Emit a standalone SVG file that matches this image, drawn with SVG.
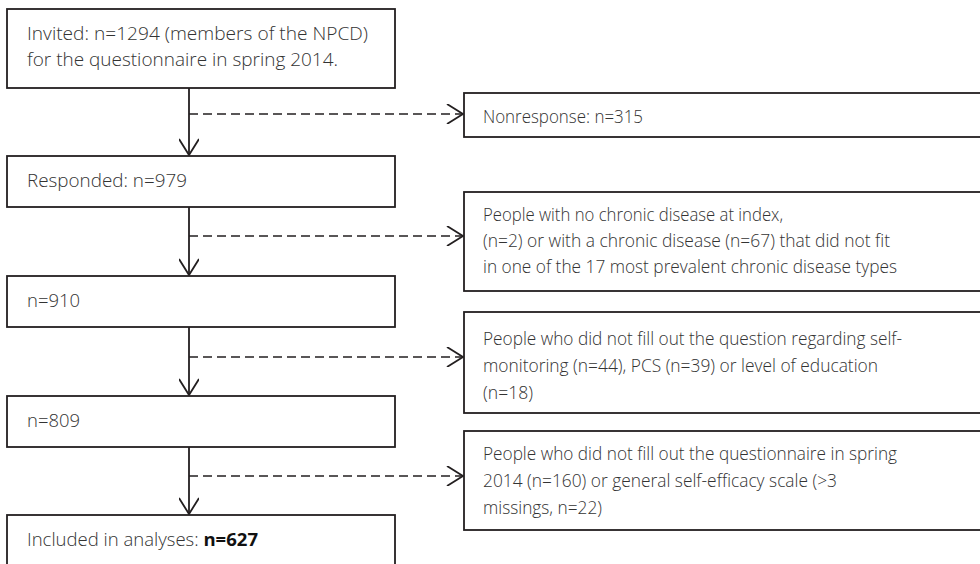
<svg xmlns="http://www.w3.org/2000/svg" width="980" height="564" viewBox="0 0 980 564">
<defs>
<style>
.box{fill:#fff;stroke:#231f20;stroke-width:1.8}
.t{font-family:"Open Sans","Liberation Sans",sans-serif;font-size:17.5px;font-weight:300;fill:#333}
.b{font-weight:700;fill:#111}
.solid{fill:none;stroke:#231f20;stroke-width:1.8}
.dash{fill:none;stroke:#231f20;stroke-width:1.6;stroke-dasharray:9 5}
</style>
<marker id="arr" viewBox="0 0 20 20" refX="18" refY="10" markerWidth="20" markerHeight="20" markerUnits="userSpaceOnUse" orient="auto">
<path d="M2,0 L18,10 L2,20" fill="none" stroke="#231f20" stroke-width="1.8"/>
</marker>
</defs>
<rect width="980" height="564" fill="#fff"/>
<g id="connectors">
<line class="solid" x1="189" y1="88" x2="189" y2="155" marker-end="url(#arr)"/>
<line class="solid" x1="189" y1="207" x2="189" y2="275" marker-end="url(#arr)"/>
<line class="solid" x1="189" y1="327" x2="189" y2="395" marker-end="url(#arr)"/>
<line class="solid" x1="189" y1="447" x2="189" y2="514" marker-end="url(#arr)"/>
<line class="dash" x1="189" y1="114" x2="463" y2="114" marker-end="url(#arr)"/>
<line class="dash" x1="189" y1="236" x2="463" y2="236" marker-end="url(#arr)"/>
<line class="dash" x1="189" y1="357" x2="463" y2="357" marker-end="url(#arr)"/>
<line class="dash" x1="189" y1="476" x2="463" y2="476" marker-end="url(#arr)"/>
</g>
<g id="invited">
<rect class="box" x="7" y="9" width="388" height="79"/>
<text class="t" x="27" y="40" textLength="341" lengthAdjust="spacingAndGlyphs">Invited: n=1294 (members of the NPCD)</text>
<text class="t" x="27" y="66" textLength="311" lengthAdjust="spacingAndGlyphs">for the questionnaire in spring 2014.</text>
</g>
<g id="responded">
<rect class="box" x="7" y="156" width="388" height="51"/>
<text class="t" x="27" y="187" textLength="160" lengthAdjust="spacingAndGlyphs">Responded: n=979</text>
</g>
<g id="n910">
<rect class="box" x="7" y="276" width="388" height="51"/>
<text class="t" x="27" y="307" textLength="53" lengthAdjust="spacingAndGlyphs">n=910</text>
</g>
<g id="n809">
<rect class="box" x="7" y="396" width="388" height="51"/>
<text class="t" x="27" y="427" textLength="53" lengthAdjust="spacingAndGlyphs">n=809</text>
</g>
<g id="included">
<rect class="box" x="7" y="515" width="388" height="60"/>
<text class="t" x="27" y="546" textLength="231" lengthAdjust="spacingAndGlyphs">Included in analyses: <tspan class="b">n=627</tspan></text>
</g>
<g id="nonresponse">
<rect class="box" x="464" y="93" width="530" height="44"/>
<text class="t" x="483" y="123" textLength="160" lengthAdjust="spacingAndGlyphs">Nonresponse: n=315</text>
</g>
<g id="excl1">
<rect class="box" x="464" y="192" width="530" height="99"/>
<text class="t" x="483" y="221" textLength="300" lengthAdjust="spacingAndGlyphs">People with no chronic disease at index,</text>
<text class="t" x="483" y="247" textLength="407" lengthAdjust="spacingAndGlyphs">(n=2) or with a chronic disease (n=67) that did not fit</text>
<text class="t" x="483" y="273" textLength="414" lengthAdjust="spacingAndGlyphs">in one of the 17 most prevalent chronic disease types</text>
</g>
<g id="excl2">
<rect class="box" x="464" y="312" width="530" height="101"/>
<text class="t" x="483" y="345" textLength="419" lengthAdjust="spacingAndGlyphs">People who did not fill out the question regarding self-</text>
<text class="t" x="483" y="372" textLength="395" lengthAdjust="spacingAndGlyphs">monitoring (n=44), PCS (n=39) or level of education</text>
<text class="t" x="483" y="399" textLength="50" lengthAdjust="spacingAndGlyphs">(n=18)</text>
</g>
<g id="excl3">
<rect class="box" x="464" y="431" width="530" height="99"/>
<text class="t" x="483" y="460" textLength="414" lengthAdjust="spacingAndGlyphs">People who did not fill out the questionnaire in spring</text>
<text class="t" x="483" y="487" textLength="354" lengthAdjust="spacingAndGlyphs">2014 (n=160) or general self-efficacy scale (&gt;3</text>
<text class="t" x="483" y="514" textLength="119" lengthAdjust="spacingAndGlyphs">missings, n=22)</text>
</g>
</svg>
